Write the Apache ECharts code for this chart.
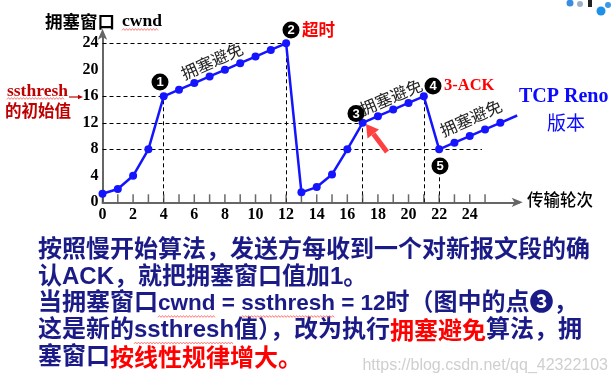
<!DOCTYPE html>
<html><head><meta charset="utf-8">
<script src="https://cdn.jsdelivr.net/npm/echarts@6/dist/echarts.min.js"></script>
<style>html,body{margin:0;padding:0;background:#fff}#c{width:611px;height:385px}</style>
</head><body><div id="c"></div>
<script>
// ---- data ----
const rounds = [0,1,2,3,4,5,6,7,8,9,10,11,12,13,14,15,16,17,18,19,20,21,22,23,24,25,26];
const cwnd   = [1.3,2,4,8,16,17,18,19,20,21,22,23,24,1.5,2.3,4.2,8,12,13,14,15,16,8,9,10,11,12];
const tailRounds = [26, 27.1];
const tailCwnd   = [12, 13.1];
// dashed guides: [y, xFrom, xTo] and [x, yFrom, yTo]
const hGuides = [[24,0,12],[16,0,4],[12,0,17],[8,0,24.8]];
const vGuides = [[4,0,16],[12,0,24],[17,0,12],[21,0,16],[22,0,4.6]];
const xTicks = [0,1,2,3,4,5,6,7,8,9,10,11,12,13,14,15,16,17,18,19,20,21,22,23,24,25];
const xTickLabels = [0,2,4,6,8,10,12,14,16,18,20,22,24];
const yTickLabels = [0,4,8,12,16,20,24];

const chart = echarts.init(document.getElementById('c'), null, {renderer:'canvas'});
const serif = '"Liberation Serif","Times New Roman",serif';
const cjk = '"Noto Sans CJK SC",sans-serif';
const mixed = '"Liberation Sans","Noto Sans CJK SC","DejaVu Sans",sans-serif';
const navy = '#1b1b88';
const blue = '#1414ff';

const mctx = document.createElement('canvas').getContext('2d');
function tw(font, s){ mctx.font = font; return mctx.measureText(s).width; }

function circleNum(x, y, n) {
  return [
    {type:'circle', shape:{cx:x, cy:y, r:8.5}, style:{fill:'#000'}, z:50},
    {type:'text', x:x, y:y+0.5, z:51, style:{text:String(n), fill:'#fff', font:'bold 13px "Liberation Sans",sans-serif', align:'center', verticalAlign:'middle'}}
  ];
}
function rotText(x, y, deg, txt) {
  return {type:'text', x:x, y:y, rotation: deg*Math.PI/180, z:40,
    style:{text:txt, fill:'#222', font:'16.5px '+cjk, align:'center', verticalAlign:'middle'}};
}
function wavy(x1, x2, y) {
  const pts = [];
  let k = 0;
  for (let x = x1; x <= x2; x += 1.5, k++) pts.push([x, y + ((k % 2) ? -0.9 : 0.9)]);
  return {type:'polyline', shape:{points:pts}, style:{stroke:'#ff5a5a', lineWidth:0.8, fill:null}, z:35};
}

const fN = 'bold 24px ' + mixed;
const fL = 'bold 22.5px ' + mixed;
const fR = 'bold 24px ' + cjk;
const bottomRich = {
  n:{fill:navy, font:fN},
  l:{fill:navy, font:fL},
  r:{fill:'#ff0000', font:fR}
};
const bottomLines = [
  '{n|按照慢开始算法，发送方每收到一个对新报文段的确}',
  '{n|认ACK，就把拥塞窗口值加1。}',
  '{n|当拥塞窗口}{l|cwnd = ssthresh = 12}{n|时（图中的点❸，}',
  '{n|这是新的ssthresh值），改为执行}{r|拥塞避免}{n|算法，拥}',
  '{n|塞窗口}{r|按线性规律增大。}'
];
const bottomY = [250, 277, 303.5, 330, 357];
const LX = 38;

const graphics = [];
bottomLines.forEach((t,i)=>{
  graphics.push({type:'text', x:LX, y:bottomY[i], z:30,
    style:{text:t, rich:bottomRich, verticalAlign:'middle', align:'left', font:fN, fill:navy}});
});
// spell-check style wavy underlines in the text block
{
  const a = LX + tw(fN, '当拥塞窗口');
  const cw = tw(fL, 'cwnd');
  const b = a + tw(fL, 'cwnd = ');
  const sw = tw(fL, 'ssthresh');
  graphics.push(wavy(a, a+cw, bottomY[2]+13), wavy(b, b+sw, bottomY[2]+13));
  const c = LX + tw(fN, '这是新的');
  graphics.push(wavy(c, c+tw(fN,'ssthresh'), bottomY[3]+13));
}
graphics.push(
  {type:'text', x:45, y:21, style:{text:'拥塞窗口', fill:'#000', font:'bold 17.5px '+cjk, verticalAlign:'middle'}},
  {type:'text', x:122, y:21, style:{text:'cwnd', fill:'#000', font:'bold 17.5px '+serif, verticalAlign:'middle'}},
  wavy(122, 158, 29.5),
  {type:'text', x:7, y:91, style:{text:'ssthresh', fill:'#c00000', font:'bold 17.5px '+serif, verticalAlign:'middle'}},
  wavy(7, 65, 98.5),
  {type:'text', x:5, y:111, style:{text:'的初始值', fill:'#c00000', font:'bold 16.5px '+cjk, verticalAlign:'middle'}},
  {type:'line', shape:{x1:69, y1:97, x2:80, y2:97}, style:{stroke:'#c00000', lineWidth:1.2}},
  {type:'polygon', shape:{points:[[83,97],[78,94.8],[78,99.2]]}, style:{fill:'#c00000'}},
  {type:'text', x:302, y:30, style:{text:'超时', fill:'#ff0000', font:'bold 16.5px '+cjk, verticalAlign:'middle'}},
  {type:'text', x:444, y:86, style:{text:'3-ACK', fill:'#ff0000', font:'bold 16.5px '+serif, verticalAlign:'middle'}},
  {type:'text', x:519, y:97, style:{text:'TCP Reno', fill:'#0a0aff', font:'bold 20px '+serif, verticalAlign:'middle'}},
  {type:'text', x:547, y:123, style:{text:'版本', fill:'#0a0aff', font:'19px '+cjk, verticalAlign:'middle'}},
  {type:'text', x:527, y:200, style:{text:'传输轮次', fill:'#000', font:'500 16.5px '+cjk, verticalAlign:'middle'}},
  {type:'text', x:608, y:366, style:{text:'https://blog.csdn.net/qq_42322103', fill:'#cfcfcf', font:'16px "Liberation Sans",sans-serif', align:'right', verticalAlign:'middle'}},
  rotText(212, 61, 24, '拥塞避免'),
  rotText(391, 97, 23, '拥塞避免'),
  rotText(471, 118, 24, '拥塞避免'),
  {type:'line', shape:{x1:387, y1:152, x2:373.5, y2:134}, style:{stroke:'#ff4040', lineWidth:5}, z:45},
  {type:'polygon', shape:{points:[[366,124],[379,129.5],[367.5,138.5]]}, style:{fill:'#ff4040'}, z:45},
  ...circleNum(160, 82, 1),
  ...circleNum(291, 30, 2),
  ...circleNum(356, 113.5, 3),
  ...circleNum(433, 86, 4),
  ...circleNum(440, 166, 5),
  // cut-off decoration at top-right
  {type:'circle', shape:{cx:570, cy:3, r:3.5}, style:{fill:'#3a8ee0'}},
  {type:'circle', shape:{cx:580, cy:4, r:3}, style:{fill:'#9bb0c8'}},
  {type:'rect', shape:{x:588, y:0, width:4, height:7}, style:{fill:'#222'}},
  {type:'circle', shape:{cx:601, cy:11, r:4.5}, style:{fill:'#1e90e8'}},
  {type:'circle', shape:{cx:608, cy:5, r:3}, style:{fill:'#3a9ae8'}}
);

const guideData = hGuides.map(g=>({coords:[[g[1],g[0]],[g[2],g[0]]]}))
  .concat(vGuides.map(g=>({coords:[[g[0],g[1]],[g[0],g[2]]]})));

chart.setOption({
  animation:false,
  grid:{left:102.5, right:92.3, top:32.7, bottom:182.7, containLabel:false},
  xAxis:{type:'value', min:0, max:27.2, interval:1,
    axisLine:{show:true, lineStyle:{color:'#666', width:2}, symbol:['none','arrow'], symbolSize:[7,11], symbolOffset:[0,4]},
    axisTick:{show:false}, splitLine:{show:false},
    axisLabel:{margin:5, color:'#000', fontFamily:serif, fontWeight:'bold', fontSize:16,
      formatter:v=> xTickLabels.indexOf(v) >= 0 ? String(v) : ''}},
  yAxis:{type:'value', min:0, max:25.6, interval:4,
    axisLine:{show:true, lineStyle:{color:'#666', width:2}, symbol:['none','arrow'], symbolSize:[7,11], symbolOffset:[0,4]},
    axisTick:{show:false}, splitLine:{show:false},
    axisLabel:{margin:4, color:'#000', fontFamily:serif, fontWeight:'bold', fontSize:16,
      formatter:v=> yTickLabels.indexOf(v) >= 0 ? String(v) : ''}},
  series:[
    {type:'lines', coordinateSystem:'cartesian2d', data:guideData, z:1, silent:true,
      lineStyle:{color:'#000', width:1, type:[4,3], opacity:1}},
    {type:'scatter', data:xTicks.map(v=>[v,0]), symbol:'rect', symbolSize:[1.5,8], symbolOffset:[0,-4],
      itemStyle:{color:'#444'}, z:2, clip:false, silent:true},
    {type:'line', data:tailRounds.map((x,i)=>[x,tailCwnd[i]]), symbol:'none', clip:false,
      lineStyle:{color:blue, width:2.5}, z:5},
    {type:'line', data:rounds.map((x,i)=>[x,cwnd[i]]), symbol:'circle', symbolSize:8, clip:false,
      itemStyle:{color:blue}, lineStyle:{color:blue, width:2.5}, z:6}
  ],
  graphic:graphics
});
</script>
</body></html>
